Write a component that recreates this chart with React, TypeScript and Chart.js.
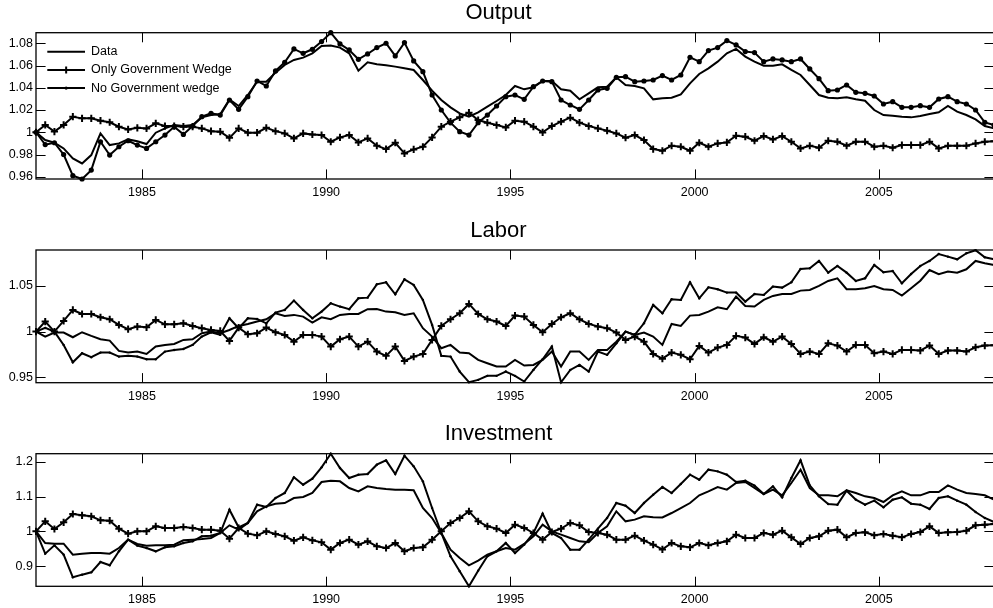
import React, { useEffect, useRef } from "react";
import { Chart, registerables } from "chart.js";

Chart.register(...registerables);

// ---------- data ----------
const FIRST_QUARTER = 1982.125; // centre of the first plotted quarter
const QUARTER = 0.25;
const X_MIN = 1982.125;
const X_MAX = 2008.125;
const YEAR_TICKS = [1985, 1990, 1995, 2000, 2005];

const SERIES_LABELS = ["Data", "Only Government Wedge", "No Government wedge"];

const OUTPUT_DATA = [
  1.0, 0.993, 0.9906, 0.9855, 0.9765, 0.972, 0.9795, 0.999, 0.9885, 0.99,
  0.9936, 0.992, 0.9894, 0.9996, 1.0035, 1.0065, 1.0056, 1.0065, 1.0134, 1.0155,
  1.0161, 1.0296, 1.0236, 1.0335, 1.0455, 1.0455, 1.0536, 1.0605, 1.065, 1.0671,
  1.071, 1.0776, 1.078, 1.0761, 1.071, 1.0554, 1.0629, 1.0611, 1.0602, 1.059,
  1.0575, 1.056, 1.047, 1.0374, 1.029, 1.0224, 1.017, 1.014, 1.0179, 1.023,
  1.0281, 1.0335, 1.0416, 1.0386, 1.0404, 1.0461, 1.0461, 1.0386, 1.0374, 1.0296,
  1.035, 1.0404, 1.041, 1.0494, 1.0425, 1.0416, 1.0395, 1.0296, 1.0305, 1.0311,
  1.0341, 1.044, 1.0524, 1.0575, 1.0635, 1.071, 1.0749, 1.068, 1.0635, 1.0599,
  1.0599, 1.0611, 1.056, 1.0515, 1.0425, 1.0335, 1.0311, 1.0305, 1.0314, 1.0296,
  1.0284, 1.02, 1.0155, 1.0149, 1.014, 1.0134, 1.0146, 1.0164, 1.0179, 1.0236,
  1.0185, 1.0155, 1.0116, 1.0056, 1.0035,
];
const OUTPUT_ONLY_GOV = [
  1.0, 1.0066, 1.0006, 1.0066, 1.014, 1.0125, 1.0125, 1.0104, 1.009, 1.005,
  1.0026, 1.004, 1.0035, 1.008, 1.0056, 1.0056, 1.005, 1.005, 1.0035, 1.001,
  1.0005, 0.995, 1.0035, 0.9996, 0.9996, 1.004, 1.001, 0.999, 0.9945, 0.999,
  0.998, 0.9975, 0.9915, 0.9954, 0.9975, 0.9909, 0.9945, 0.9879, 0.9849, 0.9906,
  0.981, 0.9846, 0.987, 0.9954, 1.005, 1.0095, 1.0134, 1.0176, 1.011, 1.0086,
  1.0065, 1.0044, 1.0104, 1.0095, 1.005, 0.9999, 1.0056, 1.0095, 1.0131, 1.0086,
  1.0056, 1.0035, 1.0014, 0.999, 0.9951, 0.9975, 0.993, 0.9849, 0.9834, 0.9879,
  0.987, 0.9834, 0.9906, 0.987, 0.99, 0.9909, 0.9969, 0.996, 0.9924, 0.9966,
  0.9936, 0.9966, 0.9915, 0.9855, 0.9879, 0.9861, 0.9924, 0.9915, 0.9879, 0.9915,
  0.9915, 0.987, 0.9879, 0.9861, 0.9885, 0.9885, 0.9885, 0.9915, 0.9855, 0.9879,
  0.9879, 0.9879, 0.99, 0.9915, 0.992,
];
const OUTPUT_NO_GOV = [
  1.0, 0.9889, 0.9906, 0.98, 0.961, 0.958, 0.966, 0.9915, 0.9795, 0.987,
  0.9924, 0.9885, 0.9855, 0.9915, 0.9975, 1.005, 0.9981, 1.0056, 1.014, 1.017,
  1.0155, 1.029, 1.0206, 1.032, 1.0461, 1.0416, 1.0551, 1.0629, 1.0749, 1.071,
  1.0746, 1.0815, 1.0895, 1.0794, 1.074, 1.0656, 1.0704, 1.0761, 1.08, 1.0686,
  1.0806, 1.0641, 1.0545, 1.0335, 1.02, 1.0086, 1.0005, 0.9975, 1.0086, 1.0155,
  1.0236, 1.032, 1.0335, 1.0296, 1.041, 1.0461, 1.0455, 1.029, 1.0245, 1.0206,
  1.029, 1.038, 1.0395, 1.0494, 1.05, 1.0455, 1.0461, 1.047, 1.051, 1.047,
  1.0515, 1.0674, 1.0635, 1.0734, 1.0761, 1.0824, 1.0785, 1.0725, 1.0716, 1.0635,
  1.0659, 1.065, 1.0635, 1.0659, 1.0569, 1.0482, 1.0374, 1.038, 1.0425, 1.0359,
  1.035, 1.0326, 1.0254, 1.0275, 1.0224, 1.0224, 1.0239, 1.0224, 1.0299, 1.032,
  1.0275, 1.0254, 1.02, 1.0089, 1.0065,
];

const LABOR_DATA = [
  1.0, 0.9945, 0.9989, 0.9989, 0.9938, 0.9993, 0.9953, 0.9916, 0.9901, 0.9788,
  0.977, 0.9781, 0.9755, 0.9836, 0.9854, 0.9865, 0.9909, 0.9916, 0.9982, 1.0,
  0.9982, 1.0018, 1.0062, 1.0084, 1.011, 1.0135, 1.0201, 1.0172, 1.0183, 1.0164,
  1.0099, 1.0157, 1.0135, 1.0183, 1.0193, 1.0193, 1.0245, 1.0248, 1.0219, 1.0212,
  1.0183, 1.0201, 1.0037, 0.9945, 0.9818, 0.9854, 0.977, 0.9763, 0.969, 0.9653,
  0.9617, 0.9617, 0.969, 0.9628, 0.9635, 0.969, 0.9781, 0.9617, 0.9781, 0.9781,
  0.969, 0.9799, 0.9799, 0.989, 1.0, 0.9964, 0.9989, 0.9945, 0.9854, 1.0084,
  1.0062, 1.0175, 1.0183, 1.0219, 1.0266, 1.0245, 1.0383, 1.0281, 1.0274, 1.0347,
  1.0391, 1.0412, 1.0412, 1.0449, 1.0456, 1.05, 1.0555, 1.0584, 1.0464, 1.0464,
  1.0475, 1.05, 1.0464, 1.0456, 1.0394, 1.0475, 1.0558, 1.0675, 1.0628, 1.0657,
  1.0646, 1.0683, 1.0774, 1.0748, 1.073,
];
const LABOR_ONLY_GOV = [
  1.0, 1.011, 1.0, 1.0117, 1.0237, 1.0193, 1.0193, 1.0157, 1.0135, 1.0073,
  1.0026, 1.0055, 1.0047, 1.0128, 1.008, 1.008, 1.0091, 1.0062, 1.0037, 1.0018,
  1.0007, 0.9898, 1.0044, 0.9971, 0.9982, 1.0044, 0.9993, 0.9964, 0.989, 0.9964,
  0.9964, 0.9945, 0.9836, 0.9916, 0.9945, 0.9836, 0.989, 0.9781, 0.9734, 0.9836,
  0.9679, 0.9726, 0.9755, 0.9909, 1.0062, 1.0135, 1.0201, 1.0303, 1.0193, 1.0135,
  1.011, 1.0062, 1.0175, 1.0164, 1.0073, 0.9993, 1.0084, 1.0157, 1.0201, 1.0135,
  1.0084, 1.0055, 1.0037, 0.9989, 0.9909, 0.9945, 0.989, 0.9755, 0.9703, 0.977,
  0.9745, 0.9697, 0.9843, 0.977, 0.9825, 0.9854, 0.9953, 0.9934, 0.9865, 0.9938,
  0.989, 0.9945, 0.9865, 0.9755, 0.9781, 0.9755, 0.9872, 0.9847, 0.9781, 0.9854,
  0.9854, 0.9763, 0.9781, 0.9755, 0.9799, 0.9799, 0.9792, 0.9847, 0.9755, 0.9792,
  0.9792, 0.9781, 0.9828, 0.9847, 0.985,
];
const LABOR_NO_GOV = [
  1.0, 1.004, 1.0, 0.9854, 0.9664, 0.9763, 0.9719, 0.977, 0.977, 0.9726,
  0.9734, 0.9726, 0.9697, 0.9697, 0.9781, 0.9799, 0.981, 0.9854, 0.9945, 0.9993,
  0.9964, 1.0146, 1.0037, 1.0146, 1.0139, 1.0091, 1.0208, 1.0237, 1.0339, 1.0237,
  1.0146, 1.0219, 1.031, 1.0274, 1.0245, 1.0365, 1.0372, 1.0518, 1.054, 1.0409,
  1.0573, 1.0511, 1.0347, 1.0073, 0.9734, 0.9726, 0.9562, 0.9445, 0.9471, 0.9515,
  0.9515, 0.9562, 0.9515, 0.9453, 0.958, 0.9697, 0.9836, 0.9445, 0.958, 0.9635,
  0.9562, 0.9781, 0.9745, 0.9872, 1.0, 0.9964, 1.0091, 1.0292, 1.0201, 1.0354,
  1.0347, 1.054, 1.0365, 1.0485, 1.0464, 1.0427, 1.0427, 1.0329, 1.0412, 1.0402,
  1.0493, 1.0482, 1.054, 1.0686, 1.0694, 1.0774, 1.0646, 1.0719, 1.0646, 1.0555,
  1.0584, 1.073, 1.065, 1.0664, 1.0529, 1.0631, 1.0719, 1.0774, 1.085, 1.0821,
  1.0792, 1.0858, 1.0892, 1.0814, 1.0792,
];

const INVEST_DATA = [
  1.0, 0.9664, 0.9645, 0.9645, 0.9329, 0.9357, 0.9377, 0.9377, 0.9357, 0.952,
  0.976, 0.9636, 0.9588, 0.9597, 0.9597, 0.9616, 0.9741, 0.976, 0.9779, 0.9808,
  0.9952, 1.0173, 1.0048, 1.024, 1.0575, 1.0719, 1.0796, 1.0815, 1.0959, 1.0988,
  1.1103, 1.1419, 1.1458, 1.1439, 1.1247, 1.1151, 1.1295, 1.1247, 1.1218, 1.1199,
  1.1199, 1.118, 1.0671, 1.0384, 0.9952, 0.9473, 0.9233, 0.9022, 0.9156, 0.9329,
  0.9425, 0.952, 0.9473, 0.9636, 0.9856, 1.0192, 1.0, 0.9904, 0.9808, 0.9712,
  0.9684, 0.9952, 1.0144, 1.0575, 1.0288, 1.0336, 1.0432, 1.0403, 1.04, 1.0527,
  1.0671, 1.0815, 1.1036, 1.1151, 1.1275, 1.1199, 1.1391, 1.1419, 1.1247, 1.1074,
  1.1199, 1.1036, 1.1391, 1.1774, 1.1247, 1.1036, 1.1036, 1.1007, 1.118, 1.1103,
  1.1007, 1.0959, 1.0844, 1.1036, 1.1151, 1.1036, 1.1036, 1.1132, 1.1132, 1.1323,
  1.1199, 1.1103, 1.1074, 1.1036, 1.0911,
];
const INVEST_ONLY_GOV = [
  1.0, 1.0288, 1.0067, 1.0259, 1.0499, 1.046, 1.0432, 1.0316, 1.0307, 1.0077,
  0.9933, 1.0, 1.0, 1.0144, 1.0096, 1.0096, 1.0125, 1.0096, 1.0048, 1.0048,
  1.0019, 0.9789, 1.0096, 0.9933, 0.9885, 1.0, 0.9923, 0.9856, 0.9731, 0.9827,
  0.9741, 0.9684, 0.9473, 0.9664, 0.976, 0.9616, 0.9712, 0.9568, 0.952, 0.9664,
  0.9425, 0.952, 0.954, 0.976, 1.0, 1.024, 1.0384, 1.0575, 1.0288, 1.0144,
  1.0077, 0.9952, 1.0192, 1.0096, 0.9952, 0.976, 0.9981, 1.0077, 1.024, 1.0173,
  0.9981, 0.9952, 0.9904, 0.976, 0.976, 0.9875, 0.9731, 0.9616, 0.948, 0.9664,
  0.9568, 0.954, 0.9664, 0.9597, 0.9664, 0.9712, 0.9904, 0.9808, 0.9808, 0.9952,
  0.9904, 1.0019, 0.9827, 0.9636, 0.9808, 0.9856, 1.0019, 1.0048, 0.9827, 0.9952,
  0.9971, 0.9885, 0.9923, 0.9875, 0.9827, 0.9923, 0.9981, 1.0144, 0.9952, 0.9971,
  0.9981, 1.0019, 1.0173, 1.0192, 1.0211,
];
const INVEST_NO_GOV = [
  1.0, 0.9357, 0.9597, 0.9329, 0.8677, 0.8753, 0.882, 0.9118, 0.9022, 0.9425,
  0.976, 0.9588, 0.952, 0.9425, 0.954, 0.9568, 0.9664, 0.9712, 0.9856, 0.9875,
  0.9952, 1.0623, 1.0115, 1.024, 1.0767, 1.07, 1.0959, 1.1103, 1.1554, 1.1343,
  1.1515, 1.1841, 1.2234, 1.1822, 1.1534, 1.163, 1.1649, 1.1918, 1.2043, 1.1649,
  1.2177, 1.187, 1.1439, 1.0671, 0.9952, 0.9281, 0.8849, 0.8418, 0.8868, 0.9281,
  0.9425, 0.9664, 0.9377, 0.9616, 0.9952, 1.0508, 0.9952, 0.9808, 0.9473, 0.9473,
  0.976, 1.0077, 1.0384, 1.0815, 1.0738, 1.0527, 1.0815, 1.1055, 1.1275, 1.1103,
  1.1362, 1.163, 1.1486, 1.1774, 1.1726, 1.163, 1.1419, 1.1458, 1.1314, 1.1074,
  1.1295, 1.0978, 1.1534, 1.2043, 1.1323, 1.1007, 1.0786, 1.0767, 1.117, 1.0911,
  1.0767, 1.0882, 1.069, 1.0911, 1.0978, 1.0796, 1.0767, 1.0643, 1.0959, 1.1007,
  1.0882, 1.0767, 1.0556, 1.0384, 1.0269,
];

const OUTPUT_Y_TICKS = [0.96, 0.98, 1, 1.02, 1.04, 1.06, 1.08];
const LABOR_Y_TICKS = [0.95, 1, 1.05];
const INVEST_Y_TICKS = [0.9, 1, 1.1, 1.2];

// ---------- styling / layout ----------
const FONT = '"Liberation Sans", Arial, Helvetica, sans-serif';
const TICK_FONT_SIZE = 12.5;
const TITLE_FONT_SIZE = 22;
const CANVAS_W = 1000;
const PLOT_LEFT = 36;
const PLOT_RIGHT_PAD = 3;
const TICK_LEN = 9.6;

type PanelSpec = {
  title: string;
  top: number;
  height: number;
  titleTop: number;
  titleBottom: number;
  xAxisHeight: number;
  yMin: number;
  yMax: number;
  yTicks: number[];
  data: number[];
  onlyGov: number[];
  noGov: number[];
  dotRadius: number;
  legend: boolean;
};

const PANELS: PanelSpec[] = [
  {
    title: "Output", top: 0, height: 200, titleTop: 1.8, titleBottom: 8.9, xAxisHeight: 21,
    yMin: 0.958, yMax: 1.0895, yTicks: OUTPUT_Y_TICKS,
    data: OUTPUT_DATA, onlyGov: OUTPUT_ONLY_GOV, noGov: OUTPUT_NO_GOV, dotRadius: 2.6, legend: true,
  },
  {
    title: "Labor", top: 200, height: 205, titleTop: 19.6, titleBottom: 8.4, xAxisHeight: 22.3,
    yMin: 0.944, yMax: 1.0894, yTicks: LABOR_Y_TICKS,
    data: LABOR_DATA, onlyGov: LABOR_ONLY_GOV, noGov: LABOR_NO_GOV, dotRadius: 1.2, legend: false,
  },
  {
    title: "Investment", top: 405, height: 203, titleTop: 18, titleBottom: 8.7, xAxisHeight: 21.7,
    yMin: 0.8418, yMax: 1.2234, yTicks: INVEST_Y_TICKS,
    data: INVEST_DATA, onlyGov: INVEST_ONLY_GOV, noGov: INVEST_NO_GOV, dotRadius: 1.2, legend: false,
  },
];

const quarterX = (i: number) => FIRST_QUARTER + QUARTER * i;
const toPoints = (values: number[]) => values.map((y, i) => ({ x: quarterX(i), y }));
const fmt = (v: number) => String(parseFloat(Number(v).toFixed(3)));

// Box with inward tick marks on all four sides (MATLAB style)
const framePlugin = {
  id: "matlabFrame",
  afterDraw(chart: any) {
    const { ctx, chartArea: a, scales } = chart;
    const xs = scales.x;
    const ys = scales.y;
    ctx.save();
    ctx.strokeStyle = "#000";
    ctx.lineWidth = 1;
    ctx.beginPath();
    xs.ticks.forEach((t: any) => {
      const px = Math.round(xs.getPixelForValue(t.value)) + 0.5;
      ctx.moveTo(px, a.bottom);
      ctx.lineTo(px, a.bottom - TICK_LEN);
      ctx.moveTo(px, a.top);
      ctx.lineTo(px, a.top + TICK_LEN);
    });
    ys.ticks.forEach((t: any) => {
      const py = Math.round(ys.getPixelForValue(t.value)) + 0.5;
      ctx.moveTo(a.left, py);
      ctx.lineTo(a.left + TICK_LEN, py);
      ctx.moveTo(a.right, py);
      ctx.lineTo(a.right - TICK_LEN, py);
    });
    ctx.stroke();
    ctx.lineWidth = 1.3;
    ctx.strokeRect(a.left, a.top, a.right - a.left, a.bottom - a.top);
    ctx.restore();
  },
};

// Legend drawn inside the top-left of the plot box
const makeLegendPlugin = (show: boolean) => ({
  id: "insideLegend",
  afterDraw(chart: any) {
    if (!show) return;
    const { ctx, chartArea: a } = chart;
    const left = a.left + 11.3;
    const lineLen = 37.7;
    ctx.save();
    ctx.font = `${TICK_FONT_SIZE}px ${FONT}`;
    ctx.textBaseline = "middle";
    ctx.textAlign = "left";
    chart.data.datasets.forEach((ds: any, i: number) => {
      const y = a.top + 19 + i * 18.2;
      ctx.strokeStyle = "#000";
      ctx.fillStyle = "#000";
      ctx.lineWidth = 2;
      ctx.beginPath();
      ctx.moveTo(left, y);
      ctx.lineTo(left + lineLen, y);
      ctx.stroke();
      const cx = left + lineLen / 2;
      if (ds.pointStyle === "cross") {
        ctx.beginPath();
        ctx.moveTo(cx - 3.5, y);
        ctx.lineTo(cx + 3.5, y);
        ctx.moveTo(cx, y - 3.5);
        ctx.lineTo(cx, y + 3.5);
        ctx.stroke();
      } else if (ds.pointRadius > 0) {
        ctx.beginPath();
        ctx.arc(cx, y, 1.6, 0, Math.PI * 2);
        ctx.fill();
      }
      ctx.fillText(ds.label, left + lineLen + 6, y);
    });
    ctx.restore();
  },
});

function buildConfig(p: PanelSpec): any {
  const base = {
    borderColor: "#000",
    backgroundColor: "#000",
    borderWidth: 2,
    tension: 0,
    fill: false,
    clip: false,
  };
  return {
    type: "line",
    data: {
      datasets: [
        { ...base, label: SERIES_LABELS[0], data: toPoints(p.data), pointRadius: 0 },
        {
          ...base, label: SERIES_LABELS[1], data: toPoints(p.onlyGov),
          pointStyle: "cross", pointRadius: 3.6, pointBorderWidth: 2,
          pointBorderColor: "#000", pointBackgroundColor: "#000",
        },
        {
          ...base, label: SERIES_LABELS[2], data: toPoints(p.noGov),
          pointStyle: "circle", pointRadius: p.dotRadius, pointBorderWidth: 0,
          pointBackgroundColor: "#000", pointBorderColor: "#000",
        },
      ],
    },
    options: {
      responsive: false,
      animation: false,
      events: [],
      layout: { padding: { left: 0, right: PLOT_RIGHT_PAD, top: 0, bottom: 0 } },
      plugins: {
        legend: { display: false },
        tooltip: { enabled: false },
        title: {
          display: true,
          text: p.title,
          color: "#000",
          font: { family: FONT, size: TITLE_FONT_SIZE, weight: "normal", lineHeight: 1 },
          padding: { top: p.titleTop, bottom: p.titleBottom },
        },
      },
      scales: {
        x: {
          type: "linear",
          min: X_MIN,
          max: X_MAX,
          grid: { display: false, drawTicks: false },
          border: { display: false },
          afterBuildTicks: (scale: any) => {
            scale.ticks = YEAR_TICKS.map((v) => ({ value: v }));
          },
          afterFit: (scale: any) => {
            scale.height = p.xAxisHeight;
          },
          ticks: {
            color: "#000",
            padding: 6,
            maxRotation: 0,
            autoSkip: false,
            font: { family: FONT, size: TICK_FONT_SIZE },
            callback: (v: any) => String(v),
          },
        },
        y: {
          type: "linear",
          min: p.yMin,
          max: p.yMax,
          grid: { display: false, drawTicks: false },
          border: { display: false },
          afterBuildTicks: (scale: any) => {
            scale.ticks = p.yTicks.map((v) => ({ value: v }));
          },
          afterFit: (scale: any) => {
            scale.width = PLOT_LEFT;
          },
          ticks: {
            color: "#000",
            padding: 3,
            autoSkip: false,
            font: { family: FONT, size: TICK_FONT_SIZE },
            callback: (v: any) => fmt(v),
          },
        },
      },
    },
    plugins: [framePlugin, makeLegendPlugin(p.legend)],
  };
}

function Panel({ spec }: { spec: PanelSpec }) {
  const ref = useRef<HTMLCanvasElement | null>(null);
  useEffect(() => {
    if (!ref.current) return;
    const chart = new Chart(ref.current, buildConfig(spec));
    return () => chart.destroy();
  }, [spec]);
  return (
    <canvas
      ref={ref}
      width={CANVAS_W}
      height={spec.height}
      style={{
        position: "absolute",
        left: 0,
        top: spec.top,
        width: CANVAS_W,
        height: spec.height,
        display: "block",
      }}
    />
  );
}

export default function App() {
  return (
    <div
      style={{
        position: "fixed",
        left: 0,
        top: 0,
        width: 993,
        height: 608,
        overflow: "hidden",
        background: "#fff",
      }}
    >
      {PANELS.map((p) => (
        <Panel key={p.title} spec={p} />
      ))}
    </div>
  );
}
